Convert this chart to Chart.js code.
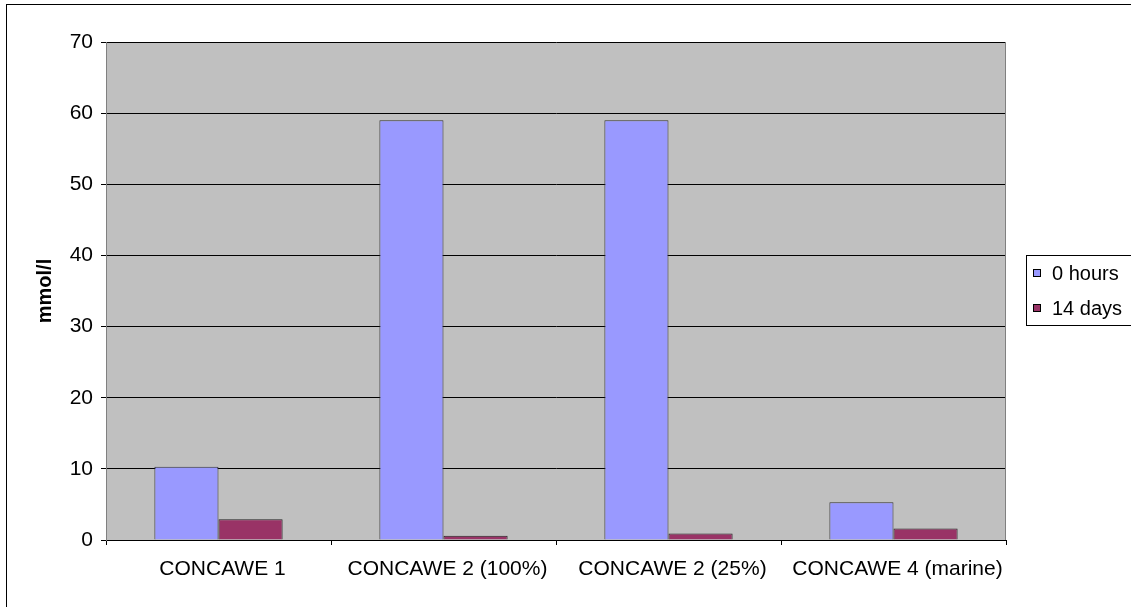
<!DOCTYPE html>
<html>
<head>
<meta charset="utf-8">
<script src="https://cdn.jsdelivr.net/npm/chart.js@4/dist/chart.umd.min.js"></script>
<style>
html,body{margin:0;padding:0;background:#fff;}
#wrap{width:1131px;height:607px;position:relative;}
</style>
</head>
<body>
<div id="wrap"><canvas id="c" width="1131" height="607"></canvas></div>
<script>
const categories = ['CONCAWE 1', 'CONCAWE 2 (100%)', 'CONCAWE 2 (25%)', 'CONCAWE 4 (marine)'];
const seriesNames = ['0 hours', '14 days'];
const hours0 = [10.3, 59, 59, 5.3];
const days14 = [2.9, 0.6, 0.9, 1.6];
const yTicks = [0, 10, 20, 30, 40, 50, 60, 70];

const FONT = "'Liberation Sans', Arial, sans-serif";

const decor = {
  id: 'decor',
  beforeDraw(chart) {
    const ctx = chart.ctx, a = chart.chartArea;
    ctx.save();
    ctx.fillStyle = '#fff';
    ctx.fillRect(0, 0, chart.width, chart.height);
    ctx.fillStyle = '#C0C0C0';
    ctx.fillRect(a.left, a.top, a.right - a.left, a.bottom - a.top);
    ctx.strokeStyle = '#000';
    ctx.lineWidth = 1;
    ctx.strokeRect(6.5, 4.5, 1300, 800);
    ctx.restore();
  },
  beforeDatasetsDraw(chart) {
    const ctx = chart.ctx, a = chart.chartArea;
    ctx.save();
    ctx.strokeStyle = '#808080';
    ctx.lineWidth = 1;
    ctx.beginPath();
    ctx.moveTo(Math.round(a.right) - 0.5, a.top);
    ctx.lineTo(Math.round(a.right) - 0.5, a.bottom);
    ctx.stroke();
    ctx.restore();
  },
  afterDraw(chart) {
    const ctx = chart.ctx;
    ctx.save();
    ctx.strokeStyle = '#000';
    ctx.lineWidth = 1;
    ctx.strokeRect(1026.5, 255.5, 110, 70);
    ctx.font = '20px ' + FONT;
    ctx.textBaseline = 'middle';
    const ys = [273, 308];
    chart.data.datasets.forEach((ds, i) => {
      ctx.fillStyle = ds.backgroundColor;
      ctx.fillRect(1033, ys[i] - 4, 8, 8);
      ctx.strokeStyle = '#000';
      ctx.strokeRect(1033.5, ys[i] - 3.5, 7, 7);
      ctx.fillStyle = '#000';
      ctx.fillText(ds.label, 1052, ys[i] + 1);
    });
    ctx.restore();
  }
};

new Chart(document.getElementById('c'), {
  type: 'bar',
  data: {
    labels: categories,
    datasets: [
      { label: seriesNames[0], data: hours0, backgroundColor: '#9999FF', borderColor: '#333333', borderWidth: 1, categoryPercentage: 0.57, barPercentage: 1.0 },
      { label: seriesNames[1], data: days14, backgroundColor: '#993366', borderColor: '#222222', borderWidth: 1, categoryPercentage: 0.57, barPercentage: 1.0 }
    ]
  },
  options: {
    responsive: false,
    animation: false,
    layout: { padding: { left: 0, top: 42, right: 125, bottom: 0 } },
    plugins: { legend: { display: false }, tooltip: { enabled: false }, title: { display: false } },
    scales: {
      x: {
        grid: { display: true, drawOnChartArea: false, drawTicks: true, tickLength: 5, color: '#000', offset: true },
        border: { display: true, color: '#000', width: 1 },
        ticks: { color: '#000', font: { family: FONT, size: 21 }, padding: 12, labelOffset: 4, maxRotation: 0, autoSkip: false },
        afterFit(s) { s.height = 67; }
      },
      y: {
        min: 0, max: 70,
        afterBuildTicks(s) { s.ticks = yTicks.map(v => ({ value: v })); },
        grid: { color: '#000', tickLength: 5, drawTicks: true },
        border: { display: true, color: '#808080', width: 1 },
        ticks: { color: '#000', font: { family: FONT, size: 21 }, padding: 8 },
        title: { display: true, text: 'mmol/l', color: '#000', font: { family: FONT, size: 20, weight: 'bold' }, padding: { top: 33, bottom: 0 } },
        afterFit(s) { s.width = 106; }
      }
    }
  },
  plugins: [decor]
});
</script>
</body>
</html>
